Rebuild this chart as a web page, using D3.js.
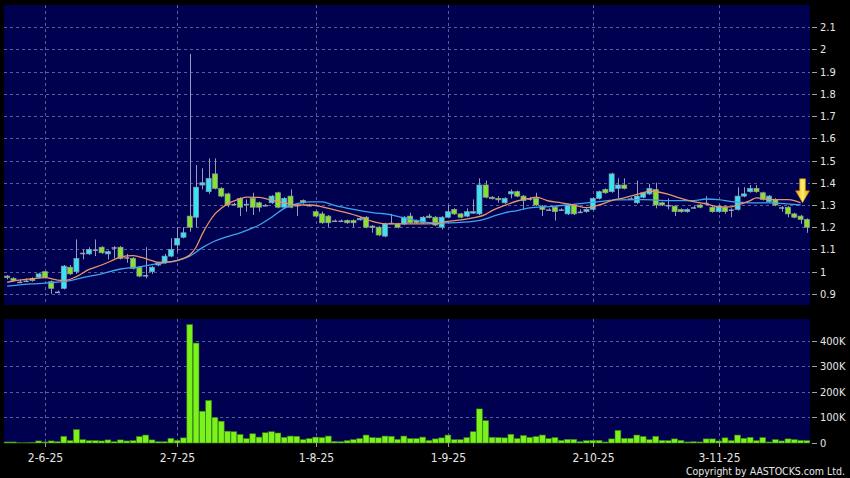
<!DOCTYPE html>
<html><head><meta charset="utf-8">
<script src="https://cdn.jsdelivr.net/npm/d3@7"></script>
<style>body{margin:0;background:#000;}svg{display:block}</style>
</head><body><svg id="c" width="850" height="478"></svg>
<script>
const open=[0.98,0.97,0.955,0.96,0.97,0.975,1.0,0.955,0.91,0.925,
1.02,1.0,1.085,1.08,1.10,1.11,1.08,1.11,1.11,1.065,
1.06,1.02,0.985,1.0,1.03,1.04,1.07,1.12,1.155,1.25,
1.245,1.39,1.36,1.44,1.375,1.35,1.305,1.33,1.305,1.33,
1.31,1.30,1.31,1.355,1.29,1.34,1.30,1.32,1.30,1.27,
1.26,1.25,1.23,1.23,1.23,1.23,1.235,1.245,1.205,1.20,
1.16,1.22,1.215,1.215,1.25,1.23,1.22,1.25,1.245,1.20,
1.245,1.28,1.26,1.25,1.265,1.26,1.39,1.335,1.33,1.31,
1.35,1.36,1.34,1.33,1.33,1.295,1.28,1.29,1.28,1.26,
1.30,1.27,1.27,1.28,1.33,1.37,1.36,1.375,1.39,1.33,
1.31,1.335,1.35,1.37,1.31,1.30,1.295,1.28,1.27,1.29,
1.30,1.31,1.29,1.27,1.29,1.28,1.28,1.34,1.36,1.375,
1.355,1.315,1.325,1.29,1.29,1.26,1.25,1.235];
const close=[0.975,0.96,0.955,0.96,0.96,0.99,0.975,0.925,0.91,1.025,
0.99,1.06,1.085,1.10,1.10,1.085,1.09,1.11,1.06,1.065,
1.015,0.98,0.985,1.02,1.04,1.07,1.10,1.15,1.175,1.20,
1.38,1.40,1.42,1.375,1.34,1.30,1.305,1.29,1.305,1.29,
1.29,1.30,1.34,1.29,1.33,1.29,1.30,1.31,1.30,1.25,
1.22,1.22,1.23,1.23,1.22,1.22,1.24,1.20,1.20,1.165,
1.215,1.22,1.20,1.245,1.22,1.22,1.245,1.245,1.21,1.245,
1.27,1.26,1.245,1.27,1.27,1.39,1.335,1.33,1.325,1.33,
1.36,1.34,1.32,1.33,1.30,1.28,1.28,1.27,1.28,1.30,
1.26,1.27,1.28,1.33,1.36,1.355,1.44,1.39,1.375,1.33,
1.34,1.355,1.375,1.30,1.30,1.30,1.27,1.27,1.28,1.29,
1.29,1.31,1.27,1.295,1.27,1.28,1.34,1.35,1.375,1.36,
1.325,1.34,1.30,1.29,1.26,1.245,1.235,1.20];
const high=[0.985,0.975,0.965,0.97,0.975,0.995,1.0,0.96,0.915,1.03,
1.03,1.145,1.10,1.11,1.145,1.115,1.095,1.115,1.115,1.08,
1.065,1.025,1.11,1.025,1.045,1.08,1.15,1.20,1.20,1.98,
1.48,1.465,1.51,1.51,1.38,1.355,1.31,1.335,1.325,1.355,
1.315,1.305,1.345,1.36,1.335,1.37,1.305,1.325,1.305,1.275,
1.27,1.255,1.235,1.235,1.235,1.235,1.245,1.25,1.21,1.205,
1.22,1.26,1.22,1.25,1.265,1.235,1.25,1.26,1.25,1.25,
1.30,1.285,1.265,1.285,1.325,1.42,1.41,1.34,1.34,1.335,
1.37,1.365,1.345,1.335,1.355,1.30,1.285,1.295,1.285,1.305,
1.305,1.28,1.285,1.335,1.365,1.375,1.445,1.42,1.42,1.335,
1.41,1.36,1.395,1.40,1.315,1.33,1.30,1.285,1.285,1.295,
1.305,1.34,1.295,1.30,1.295,1.285,1.38,1.38,1.39,1.39,
1.36,1.345,1.33,1.295,1.295,1.265,1.255,1.24];
const low=[0.965,0.955,0.95,0.955,0.955,0.97,0.97,0.90,0.905,0.92,
0.985,0.99,1.055,1.075,1.07,1.08,1.055,1.06,1.055,1.04,
1.01,0.975,0.97,0.99,1.025,1.035,1.065,1.09,1.15,1.18,
1.20,1.37,1.35,1.37,1.335,1.29,1.30,1.25,1.27,1.255,
1.27,1.295,1.305,1.285,1.285,1.285,1.25,1.305,1.295,1.245,
1.215,1.20,1.225,1.225,1.215,1.20,1.23,1.195,1.175,1.16,
1.155,1.215,1.195,1.21,1.215,1.215,1.215,1.24,1.205,1.19,
1.24,1.255,1.24,1.245,1.26,1.255,1.33,1.325,1.31,1.305,
1.33,1.335,1.28,1.32,1.295,1.25,1.275,1.23,1.275,1.255,
1.255,1.265,1.265,1.275,1.325,1.35,1.355,1.33,1.37,1.325,
1.305,1.33,1.345,1.285,1.295,1.28,1.25,1.265,1.265,1.285,
1.285,1.30,1.265,1.265,1.26,1.245,1.275,1.335,1.355,1.355,
1.32,1.31,1.295,1.27,1.245,1.24,1.215,1.175];
const volumeK=[4,4,1,1,2,8,4,8,5,26,
9,52,13,9,9,8,12,5,12,8,
9,25,31,12,5,5,18,10,20,462,
390,124,166,99,85,46,44,33,17,36,
23,40,44,39,22,27,26,13,17,23,
21,27,6,5,9,13,17,31,21,20,
27,26,14,27,17,17,23,10,16,20,
31,13,13,21,44,133,87,22,21,20,
34,17,29,22,25,31,17,21,10,14,
14,5,9,10,10,4,16,49,18,18,
31,25,13,26,10,9,16,10,4,5,
4,16,16,8,20,9,31,18,22,9,
21,4,13,8,16,13,10,9];
// moving averages: [candle index, value]
const maShort=[[0,0.952],[1,0.958],[4,0.968],[6,0.973],[8,0.962],[9,0.96],[11,0.978],[13,1.01],[15,1.03],[17,1.054],[18,1.066],[20,1.072],[21,1.067],[23,1.05],[24,1.042],[26,1.045],[28,1.06],[29,1.075],[30,1.11],[31,1.17],[32,1.22],[33,1.26],[34,1.285],[35,1.305],[37,1.328],[38,1.335],[40,1.334],[42,1.322],[44,1.31],[46,1.30],[48,1.30],[50,1.292],[52,1.278],[54,1.265],[56,1.248],[58,1.226],[60,1.215],[62,1.215],[65,1.215],[68,1.216],[70,1.226],[72,1.233],[74,1.242],[76,1.258],[77,1.275],[79,1.298],[81,1.318],[83,1.33],[84,1.335],[86,1.318],[88,1.31],[90,1.30],[92,1.288],[94,1.30],[96,1.32],[98,1.332],[101,1.355],[102,1.363],[105,1.348],[107,1.33],[109,1.315],[111,1.305],[113,1.292],[115,1.292],[116,1.30],[118,1.32],[119,1.332],[121,1.325],[124,1.324],[125,1.32],[126,1.31]];
const maLong=[[0,0.935],[4,0.945],[6,0.948],[8,0.953],[10,0.96],[12,0.973],[15,0.99],[18,1.012],[21,1.022],[24,1.036],[25,1.04],[27,1.05],[29,1.07],[31,1.108],[33,1.138],[35,1.158],[37,1.175],[40,1.21],[42,1.245],[44,1.285],[46,1.306],[48,1.314],[50,1.314],[52,1.298],[55,1.28],[58,1.266],[61,1.256],[63,1.242],[65,1.23],[67,1.221],[70,1.22],[72,1.222],[74,1.226],[76,1.238],[77,1.248],[79,1.265],[81,1.275],[83,1.287],[86,1.293],[89,1.30],[92,1.31],[94,1.315],[97,1.323],[101,1.324],[105,1.32],[109,1.32],[111,1.327],[113,1.324],[115,1.315],[118,1.31],[121,1.31],[124,1.305],[126,1.30]];
const tickIdx=[6,27,49,70,93,113];
const tickLabels=["2-6-25","2-7-25","1-8-25","1-9-25","2-10-25","3-11-25"];
const priceTicks=[0.9,1.0,1.1,1.2,1.3,1.4,1.5,1.6,1.7,1.8,1.9,2.0,2.1];
const volTicks=[0,100,200,300,400];
const arrowAt=[126,1.31];

const svg=d3.select("#c");
const W=850,H=478;
const L=4,R=810,PT=5,PB=305,VT=319,VB=443;
const FONT="'DejaVu Sans Condensed','DejaVu Sans',sans-serif";
svg.append("rect").attr("width",W).attr("height",H).attr("fill","#000");
svg.append("rect").attr("x",L).attr("y",PT).attr("width",R-L).attr("height",PB-PT).attr("fill","#000050");
svg.append("rect").attr("x",L).attr("y",VT).attr("width",R-L).attr("height",VB-VT).attr("fill","#000050");

const idx=d3.range(open.length);
const x=d3.scaleBand().domain(idx).range([L,R]).paddingInner(0.2).paddingOuter(0.1);
const bw=x.bandwidth();
const xc=i=>x(i)+bw/2;
const xl=d3.scaleLinear().domain([0,open.length-1]).range([xc(0),xc(open.length-1)]);
const y=d3.scaleLinear().domain([0.85,2.2]).range([PB,PT]);
const yv=d3.scaleLinear().domain([0,484]).range([VB,VT]);

const gridCol="#5c5c98";
const grid=svg.append("g").attr("stroke",gridCol).attr("stroke-width",1).attr("stroke-dasharray","3,3");
priceTicks.forEach(t=>{const yy=Math.round(y(t))+0.5;grid.append("line").attr("x1",L).attr("x2",R).attr("y1",yy).attr("y2",yy);});
volTicks.filter(t=>t>0).forEach(t=>{const yy=Math.round(yv(t))+0.5;grid.append("line").attr("x1",L).attr("x2",R).attr("y1",yy).attr("y2",yy);});
tickIdx.forEach(i=>{const xx=Math.round(xc(i))+0.5;
  grid.append("line").attr("x1",xx).attr("x2",xx).attr("y1",PT).attr("y2",PB);
  grid.append("line").attr("x1",xx).attr("x2",xx).attr("y1",VT).attr("y2",VB);});

// volume bars
svg.append("g").selectAll("rect").data(idx).join("rect")
 .attr("x",i=>x(i)-0.4).attr("width",bw+0.8)
 .attr("y",i=>yv(volumeK[i])).attr("height",i=>VB-yv(volumeK[i]))
 .attr("fill","#7cf21c").attr("stroke","#3c8a10").attr("stroke-width",0.6);

// candles
const cg=svg.append("g");
cg.selectAll("line").data(idx).join("line")
 .attr("x1",i=>Math.round(xc(i))+0.5).attr("x2",i=>Math.round(xc(i))+0.5)
 .attr("y1",i=>y(high[i])).attr("y2",i=>y(low[i]))
 .attr("stroke","#9a9ab8").attr("stroke-width",1);
cg.selectAll("rect").data(idx).join("rect")
 .attr("x",i=>x(i)).attr("width",bw)
 .attr("y",i=>y(Math.max(open[i],close[i])))
 .attr("height",i=>Math.max(1.5,Math.abs(y(open[i])-y(close[i]))))
 .attr("fill",i=>close[i]>open[i]?"#38e4f4":(close[i]<open[i]?"#86e22a":"#a0a0b8"))
 .attr("stroke",i=>close[i]===open[i]?"none":"#8c9aa8").attr("stroke-width",0.7);

// moving averages
const line=d3.line().x(d=>xl(d[0])).y(d=>y(d[1])).curve(d3.curveMonotoneX);
svg.append("path").datum(maLong).attr("d",line).attr("fill","none").attr("stroke","#3ea4ee").attr("stroke-width",1.3);
svg.append("path").datum(maShort).attr("d",line).attr("fill","none").attr("stroke","#e8946a").attr("stroke-width",1.3);

// arrow
const defs=svg.append("defs");
const gr=defs.append("linearGradient").attr("id","ag").attr("x1","0").attr("x2","1").attr("y1","0").attr("y2","0");
gr.append("stop").attr("offset","0").attr("stop-color","#e8a000");
gr.append("stop").attr("offset","0.5").attr("stop-color","#fff070");
gr.append("stop").attr("offset","1").attr("stop-color","#e8a000");
const ax=xl(arrowAt[0])+2,ay=y(arrowAt[1]);
svg.append("path").attr("d",`M${ax-3},${ay-24}L${ax+3},${ay-24}L${ax+3},${ay-12}L${ax+7},${ay-12}L${ax},${ay}L${ax-7},${ay-12}L${ax-3},${ay-12}Z`)
 .attr("fill","url(#ag)").attr("stroke","#c08000").attr("stroke-width",0.6);

// right axes
const txtCol="#e6e6e6";
const ax1=svg.append("g").attr("font-family",FONT).attr("font-size",11).attr("fill",txtCol);
priceTicks.forEach(t=>{const yy=Math.round(y(t))+0.5;
  ax1.append("line").attr("x1",812).attr("x2",817).attr("y1",yy).attr("y2",yy).attr("stroke","#a0a0a0");
  ax1.append("text").attr("x",820).attr("y",yy).attr("dy","0.36em").text(String(+t.toFixed(1)));});
volTicks.forEach(t=>{const yy=Math.round(yv(t))+0.5;
  ax1.append("line").attr("x1",812).attr("x2",817).attr("y1",yy).attr("y2",yy).attr("stroke","#a0a0a0");
  ax1.append("text").attr("x",820).attr("y",yy).attr("dy","0.36em").text(t===0?"0":t+"K");});
// x axis
tickIdx.forEach((i,k)=>{const xx=Math.round(xc(i))+0.5;
  ax1.append("line").attr("x1",xx).attr("x2",xx).attr("y1",VB).attr("y2",VB+4).attr("stroke","#a0a0a0");
  ax1.append("text").attr("x",xx).attr("y",462).attr("text-anchor","middle").attr("font-size",12).text(tickLabels[k]);});
svg.append("text").attr("x",845).attr("y",475).attr("text-anchor","end").attr("font-family",FONT).attr("font-size",10.5).attr("fill",txtCol).text("Copyright by AASTOCKS.com Ltd.");
</script></body></html>
